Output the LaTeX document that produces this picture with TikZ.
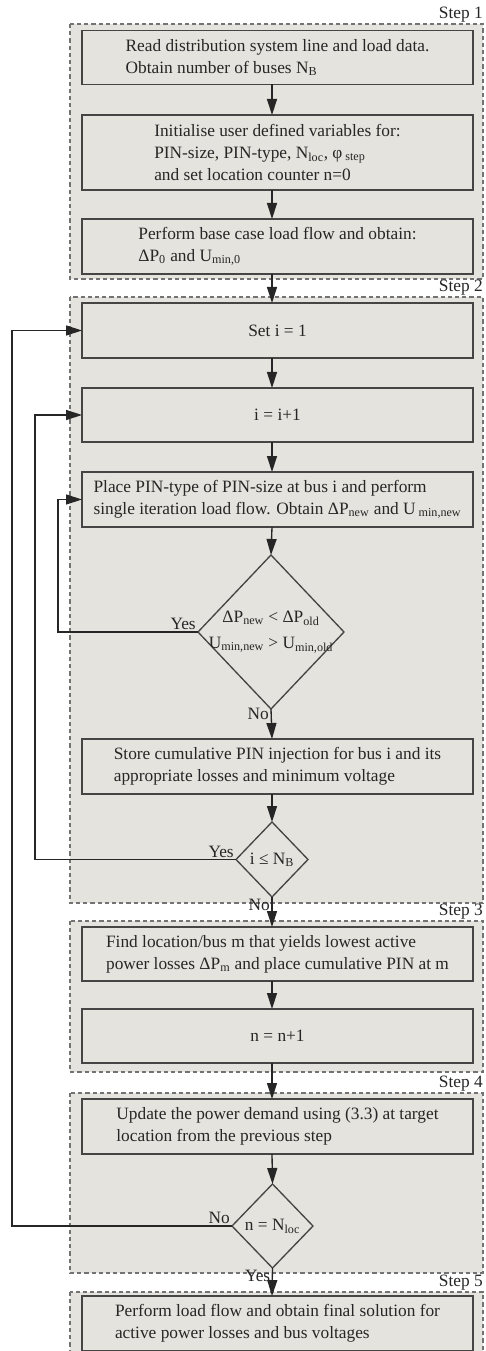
\documentclass[tikz,border=0pt]{standalone}
\usepackage{fontspec}
\setmainfont{Liberation Serif}
\usetikzlibrary{shapes.geometric,arrows.meta}
\definecolor{panel}{HTML}{E4E3DD}
\definecolor{edge}{HTML}{454545}
\tikzset{
  txt/.style={font=\fontsize{13}{16.5}\selectfont, text=black!85},
  box/.style={txt, draw=edge, line width=1pt, fill=panel, minimum width=293.25pt,
    minimum height=40.5pt, align=left, inner sep=2pt, outer sep=0pt},
  decision/.style={txt, diamond, draw=edge, line width=1pt, fill=panel, inner sep=0pt, outer sep=0pt},
  group/.style={draw=black!55, dash pattern=on 3.2pt off 2.2pt, line width=0.8pt, fill=panel},
  steplbl/.style={txt, anchor=south east, inner sep=1.5pt},
  lbl/.style={txt, inner sep=1.5pt},
  arrow/.style={draw=black!85, line width=1pt, -{Triangle[length=12pt,width=7.5pt]}}
}
\begin{document}
\begin{tikzpicture}[x=0.75pt,y=-0.75pt]
\useasboundingbox (0,0) rectangle (485,1351);
% step frames
\draw[group] (70,24) rectangle (483,279);
\draw[group] (70,297) rectangle (483,903);
\draw[group] (70,921) rectangle (483,1072);
\draw[group] (70,1093) rectangle (483,1273);
\draw[group] (70,1292) rectangle (483,1370);
\node[steplbl] (s1) at (485,24) {Step 1};
\node[steplbl] (s2) at (485,297) {Step 2};
\node[steplbl] (s3) at (485,921) {Step 3};
\node[steplbl] (s4) at (485,1093) {Step 4};
\node[steplbl] (s5) at (485,1292) {Step 5};
% main column
\coordinate (ax) at (272,0);
\node[box] (read) at (277.5,57.5) {Read distribution system line and load data.\\Obtain number of buses N\textsubscript{B}};
\node[box, minimum height=56.25pt] (init) at (277.5,152.5) {Initialise user defined variables for:\\PIN-size, PIN-type, N\textsubscript{loc}, φ\,\textsubscript{step}\\and set location counter n=0};
\node[box, minimum height=41.25pt] (base) at (277.5,246.5) {Perform base case load flow and obtain:\\ΔP\textsubscript{0} and U\textsubscript{min,0}};
\node[box, minimum height=41.25pt] (seti) at (277.5,330.5) {Set i = 1};
\node[box] (inci) at (277.5,415) {i = i+1};
\node[box, minimum height=41.25pt] (place) at (277.5,499.5) {Place PIN-type of PIN-size at bus i and perform\\single iteration load flow. Obtain ΔP\textsubscript{new} and U\,\textsubscript{min,new}};
\node[decision, minimum width=109.5pt, minimum height=115.5pt,
  label={[txt, align=center]center:ΔP\textsubscript{new} < ΔP\textsubscript{old}\\[3pt]U\textsubscript{min,new} > U\textsubscript{min,old}}] (cmp) at (271,632) {};
\node[box, minimum height=41.25pt] (store) at (277.5,766.5) {Store cumulative PIN injection for bus i and its\\appropriate losses and minimum voltage};
\node[decision, minimum width=54pt, minimum height=56.25pt,
  label={[txt]center:i ≤ N\textsubscript{B}}] (last) at (272,859.5) {};
\node[box] (find) at (277.5,954) {Find location/bus m that yields lowest active\\power losses ΔP\textsubscript{m} and place cumulative PIN at m};
\node[box] (incn) at (277.5,1036) {n = n+1};
\node[box, minimum height=41.25pt] (upd) at (277.5,1126.5) {Update the power demand using (3.3) at target\\location from the previous step};
\node[decision, minimum width=60.75pt, minimum height=63pt,
  label={[txt]center:n = N\textsubscript{loc}}] (done) at (272.5,1226) {};
\node[box, minimum height=41.25pt] (final) at (277.5,1323.5) {Perform load flow and obtain final solution for\\active power losses and bus voltages};
% flow
\draw[arrow] (read.south -| ax) -- (init.north -| ax);
\draw[arrow] (init.south -| ax) -- (base.north -| ax);
\draw[arrow] (base.south -| ax) -- (seti.north -| ax);
\draw[arrow] (seti.south -| ax) -- (inci.north -| ax);
\draw[arrow] (inci.south -| ax) -- (place.north -| ax);
\draw[arrow] (place.south -| ax) -- (cmp.north);
\draw[arrow] (cmp.south) -- (store.north -| ax);
\draw[arrow] (store.south -| ax) -- (last.north);
\draw[arrow] (last.south) -- (find.north -| ax);
\draw[arrow] (find.south -| ax) -- (incn.north -| ax);
\draw[arrow] (incn.south -| ax) -- (upd.north -| ax);
\draw[arrow] (upd.south -| ax) -- (done.north);
\draw[arrow] (done.south) -- (final.north -| ax);
% loops back
\coordinate (l1) at (12,0);
\coordinate (l2) at (35,0);
\coordinate (l3) at (58,0);
\draw[arrow] (cmp.west) -- (cmp.west -| l3) |- (place.west);
\draw[arrow] (last.west) -- (last.west -| l2) |- (inci.west);
\draw[arrow] (done.west) -- (done.west -| l1) |- (seti.west);
% branch labels
\node[lbl, anchor=south east] (y1) at (cmp.west) {Yes};
\node[lbl, anchor=east] (n1) at ([yshift=-4]cmp.south) {No};
\node[lbl, anchor=south east] (y2) at (last.west) {Yes};
\node[lbl, anchor=east] (n2) at ([yshift=-6]last.south) {No};
\node[lbl, anchor=south east] (n3) at (done.west) {No};
\node[lbl, anchor=east] (y3) at ([yshift=-6]done.south) {Yes};
\end{tikzpicture}
\end{document}
